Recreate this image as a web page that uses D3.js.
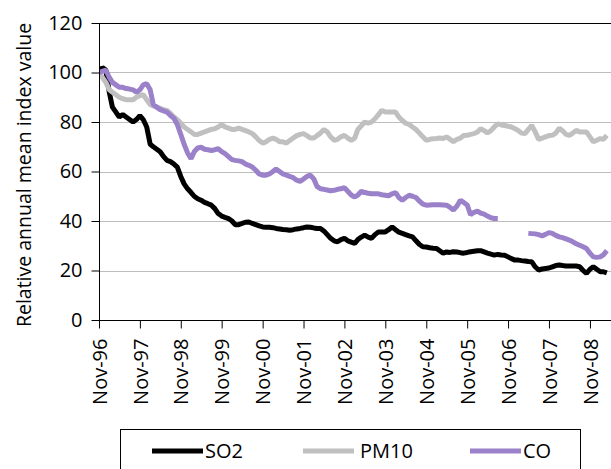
<!DOCTYPE html>
<html>
<head>
<meta charset="utf-8">
<script src="https://cdn.jsdelivr.net/npm/d3@7"></script>
<style>
  html, body { margin: 0; padding: 0; background: #fff; }
  svg { display: block; font-family: "Open Sans", sans-serif; }
</style>
</head>
<body>
<svg id="chart" width="611" height="469"></svg>
<script>
// ---------------- DATA ----------------
const firstMonth = "1996-11";          // monthly values start here
const seriesNames = ["SO2", "PM10", "CO"];
const seriesColors = ["#000000", "#c0c0c0", "#9b81c9"];

const so2 = [100,102,101,92,86,84,82,83,82,81,80,81,82.6,81,78,71,70,69,68,66,
  64.5,64,63,61.8,58,55,53,51.5,50,49,48.4,47.5,47,46.4,45,43,42,41.5,41,40,
  38.5,38.5,39,39.5,39.6,39,38.5,38,37.6,37.5,37.5,37.3,37,36.8,36.6,36.5,36.3,36.5,36.8,37,
  37.3,37.6,37.5,37.2,37,37,36,34.5,33,32,31.6,32.5,33,32,31.5,31,32.5,33.5,34.3,33.5,
  33,34.5,35.6,35.6,35.6,36.5,37.6,36.5,35.5,35,34.5,34,33.6,32,30.5,29.6,29.5,29.2,29,28.9,
  28,27,27.5,27.3,27.6,27.5,27.2,27,27.3,27.6,27.8,28,28,27.5,27,26.6,26.2,26.5,26.3,26.2,
  25.5,24.8,24.2,24.2,24,23.8,23.6,23.5,21.5,20.2,20.6,20.8,21,21.5,22,22.2,22,21.8,21.8,21.8,
  21.8,21.5,20,18.8,20.5,21.5,20.5,19.5,19.5,19];

const pm10 = [100,98,96,93,92,91,90,89.4,89,89,89,90,90.7,91,89,87,86.5,86,85.5,85,
  84.7,83.5,82,81,79.5,78,77,76,75,75,75.5,76,76.5,77,77.3,78,79,78,77.5,77,
  77,77.5,77,76.5,76,75.3,74,72.5,71.5,72,73,73.5,73,72,72,71.5,72.5,73.5,74.5,75,
  75.3,74.5,73.5,73.5,74.5,75.5,77,76,74,72.6,73,74,74.6,73.5,72.6,73.5,77,78.5,80,79.5,
  80,81.3,83,84.7,84,84,84,84,82,80.6,79.5,79,78,77,75.5,74,72.6,73,73.2,73.3,
  73.5,73.3,74,73,72,73,73.5,74.5,74.6,75,75.3,76,77.3,76.5,75.6,76.5,78,79.3,78.8,78.6,
  78.3,78,77.3,76.5,75.5,75.3,77,78.6,76,73,73.5,74,74.5,74.6,75.5,77.5,76.5,75,74.6,75.5,
  76.6,76,76,76,74,72,72.6,73.3,73,74.6];

const co = [100,100.5,101,98,96,95,94,94,93.5,93.3,93,92,93,95,95.5,93,87,86,85,84.5,
  84,82.6,81.5,79,75,71,67.5,65.2,68,69.5,69.8,69,68.8,68.5,68.8,69.2,68,67.2,66,64.8,
  64.5,64.3,64,63,62.5,61.8,60.5,59,58.5,58.5,59,60,61,60,59,58.5,58,57.5,56.5,56,
  57,58,58.5,57,54,53,52.8,52.5,52.2,52.4,52.8,53,53.5,52,50.5,49.7,50.5,52,51.5,51.2,
  51,51,51,50.6,50.4,50.2,51,51.5,49.5,48.4,49.5,50.4,50,49.5,48,46.8,46.4,46.5,46.6,46.6,
  46.6,46.5,46.4,45.5,44.4,46,48.4,47.5,46.5,42.5,43.5,44,43.2,42.8,42,41.3,41,41,null,null,
  null,null,null,null,null,null,35,34.9,34.8,34.5,34,34.6,35.3,35,34.2,33.6,33.3,32.8,32.3,31.6,
  30.8,30.2,29.6,28.9,27,25.5,25.3,25.5,26.3,28];

const xTickLabels = ["Nov-96","Nov-97","Nov-98","Nov-99","Nov-00","Nov-01","Nov-02",
  "Nov-03","Nov-04","Nov-05","Nov-06","Nov-07","Nov-08"];
const yTicks = [0, 20, 40, 60, 80, 100, 120];
const yTitle = "Relative annual mean index value";

// ---------------- CHART ----------------
(function () {
const svg = d3.select("#chart");
const parseMonth = d3.timeParse("%Y-%m");
const parseTick = d3.timeParse("%b-%y");
const start = parseMonth(firstMonth);
const values = [so2, pm10, co];

const pLeft = 99, pRight = 611, pTop = 23, pBottom = 320;
const x = d3.scaleTime()
  .domain([start, new Date(2009, 4, 8)])
  .range([pLeft, pRight]);
const y = d3.scaleLinear().domain([0, 120]).range([pBottom, pTop]);

// gridlines
svg.append("g")
  .selectAll("line")
  .data(yTicks.filter(v => v > 0 && v < 120))
  .join("line")
  .attr("x1", pLeft).attr("x2", pRight)
  .attr("y1", d => Math.round(y(d)) + 0.5).attr("y2", d => Math.round(y(d)) + 0.5)
  .attr("stroke", "#bdbdbd").attr("stroke-width", 1);

// top border
svg.append("line")
  .attr("x1", pLeft).attr("x2", pRight)
  .attr("y1", Math.round(y(120)) + 0.5).attr("y2", Math.round(y(120)) + 0.5)
  .attr("stroke", "#000").attr("stroke-width", 1);

// series lines
const line = d3.line()
  .defined(d => d.v !== null)
  .x(d => x(d.date))
  .y(d => y(d.v));

svg.append("clipPath").attr("id", "plotclip")
  .append("rect").attr("x", pLeft).attr("y", 0).attr("width", pRight - pLeft + 5).attr("height", pBottom);

const lines = svg.append("g").attr("clip-path", "url(#plotclip)");
values.forEach((arr, i) => {
  const pts = arr.map((v, k) => ({ date: d3.timeMonth.offset(start, k), v }));
  lines.append("path")
    .datum(pts)
    .attr("fill", "none")
    .attr("stroke", seriesColors[i])
    .attr("stroke-width", 5)
    .attr("stroke-linejoin", "bevel")
    .attr("d", line);
});

// y axis
const yAxis = d3.axisLeft(y).tickValues(yTicks).tickSize(8).tickPadding(9).tickFormat(d3.format("d"));
const gy = svg.append("g").attr("transform", `translate(${pLeft + 0.5},0)`).call(yAxis);
gy.select(".domain").attr("d", `M0,${y(120)}V${pBottom + 0.5}`).attr("stroke", "#000");
gy.selectAll(".tick line").attr("stroke", "#000");
gy.selectAll(".tick text").attr("font-size", 20).attr("fill", "#000")
  .attr("font-family", "'Open Sans', sans-serif");

// x axis
const xTickDates = xTickLabels.map(parseTick);
const xAxis = d3.axisBottom(x).tickValues(xTickDates).tickSize(8).tickFormat((d, i) => xTickLabels[i]);
const gx = svg.append("g").attr("transform", `translate(0,${pBottom + 0.5})`).call(xAxis);
gx.select(".domain").attr("d", `M${pLeft},0H${pRight}`).attr("stroke", "#000");
gx.selectAll(".tick line").attr("stroke", "#000");
gx.selectAll(".tick text")
  .attr("font-size", 20).attr("fill", "#000")
  .attr("font-family", "'Open Sans', sans-serif")
  .attr("text-anchor", "end")
  .attr("transform", "rotate(-90)")
  .attr("x", -18).attr("y", 0).attr("dy", "0.36em");

// y title
svg.append("text")
  .attr("transform", `translate(31,175) rotate(-90)`)
  .attr("text-anchor", "middle")
  .attr("font-size", 19.5)
  .attr("fill", "#000")
  .text(yTitle);

// legend
const lg = svg.append("g");
lg.append("rect")
  .attr("x", 120.5).attr("y", 429.5).attr("width", 460).attr("height", 60)
  .attr("fill", "#fff").attr("stroke", "#000").attr("stroke-width", 1);
const legendX = [152, 303, 470];
seriesNames.forEach((name, i) => {
  lg.append("line")
    .attr("x1", legendX[i]).attr("x2", legendX[i] + 51)
    .attr("y1", 451).attr("y2", 451)
    .attr("stroke", seriesColors[i]).attr("stroke-width", 5);
  lg.append("text")
    .attr("x", legendX[i] + 53 + (i === 1 ? 4 : 0)).attr("y", 458)
    .attr("font-size", 20).attr("fill", "#000")
    .text(name);
});
})();
</script>
</body>
</html>
